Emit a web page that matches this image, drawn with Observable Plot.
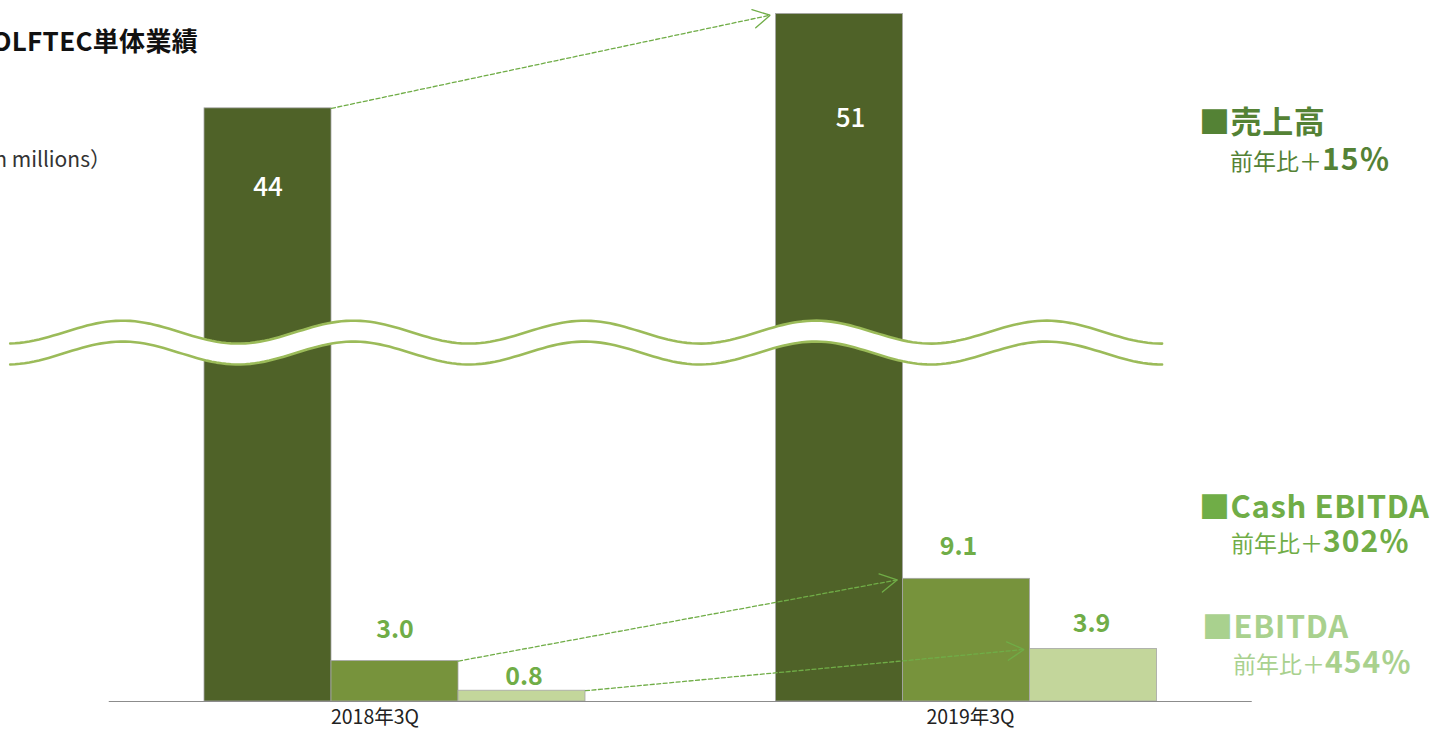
<!DOCTYPE html>
<html>
<head>
<meta charset="utf-8">
<script src="https://cdn.jsdelivr.net/npm/d3@7"></script>
<script src="https://cdn.jsdelivr.net/npm/@observablehq/plot@0.6"></script>
<style>
  html, body { margin: 0; padding: 0; background: #fff; }
  #wrap { position: relative; width: 1441px; height: 729px; overflow: hidden; font-family: "Noto Sans CJK JP", "Noto Sans", sans-serif; }
  #wrap svg { position: absolute; left: 0; top: 0; }
  .ov { position: absolute; white-space: nowrap; line-height: 1; }
  .title { left: 198px; top: 27px; transform: translateX(-100%); font-size: 26px; font-weight: 700; color: #111; letter-spacing: 0.3px; }
  .unit { left: 111px; top: 148px; transform: translateX(-100%); font-size: 21px; color: #333; }
  .lg1 { font-size: 31px; font-weight: 700; letter-spacing: 0.6px; line-height: 0.84; }
  .lg2 { font-size: 23px; font-weight: 400; line-height: 0.9; }
  .lg2 b { font-size: 30px; font-weight: 700; letter-spacing: 1px; line-height: 0.7; }
</style>
</head>
<body>
<div id="wrap"></div>
<script>
// ---- data ----
const categories = ["2018年3Q", "2019年3Q"];
const seriesNames = ["売上高", "Cash EBITDA", "EBITDA"];
const sales = [44, 51];
const cashEbitda = [3.0, 9.1];
const ebitda = [0.8, 3.9];
const valueLabels = [["44", "51"], ["3.0", "9.1"], ["0.8", "3.9"]];
const growth = ["15％", "302％", "454％"];
const seriesColors = ["#4f6228", "#77933c", "#c3d69b"];
const legendColors = ["#548235", "#70ad47", "#a9d18e"];

// ---- layout ----
const groupStep = 4.5;   // bar-widths between group starts
const seriesValues = [sales, cashEbitda, ebitda];
const rows = [];
categories.forEach((cat, g) => {
  seriesValues.forEach((vals, s) => {
    rows.push({cat, series: seriesNames[s], s, g, value: vals[g], label: valueLabels[s][g],
      x1: g * groupStep + s, x2: g * groupStep + s + 1});
  });
});

// label offsets in px (dx, dy) relative to bar top centre
const labelOffsets = {
  "売上高": [[0, 79], [11, 105]],
  "Cash EBITDA": [[0, -31], [-8, -32]],
  "EBITDA": [[2, -14], [-2, -25]]
};

// arrows from 2018 bar top-right to 2019 bar top-left
const arrows = seriesNames.map((name, s) => ({
  x1: s + 1, y1: seriesValues[s][0],
  x2: groupStep + s, y2: seriesValues[s][1]
}));

// decorative wave (axis-break symbol)
const wave = d3.range(0, 241).map(i => {
  const x = -1.53 + i * (9.07 / 240);
  const c = Math.cos(2 * Math.PI * (x + 0.646) / 1.819);
  return {x, up: 27.4 + 0.85 * c, lo: 25.85 + 0.85 * c};
});

const green = "#70ad47";
const marks = [
  Plot.rect(rows, {x1: "x1", x2: "x2", y1: 0, y2: "value", fill: "series", stroke: "#a6a6a6", strokeWidth: 0.8}),
  Plot.ruleY([0], {x1: -0.75, x2: 2 * groupStep - 0.75, stroke: "#8c8c8c", strokeWidth: 1.2}),
  Plot.areaY(wave, {x: "x", y1: "lo", y2: "up", fill: "#fff"}),
  Plot.line(wave, {x: "x", y: "up", stroke: "#9bbb59", strokeWidth: 2.6}),
  Plot.line(wave, {x: "x", y: "lo", stroke: "#9bbb59", strokeWidth: 2.6}),
  // dashed shafts
  Plot.arrow(arrows, {x1: "x1", y1: "y1", x2: "x2", y2: "y2", stroke: green, strokeWidth: 1.3, strokeDasharray: "4,2.5", headLength: 0, insetEnd: 6}),
  // solid heads (shaft removed after render)
  Plot.arrow(arrows, {x1: "x1", y1: "y1", x2: "x2", y2: "y2", stroke: green, strokeWidth: 1.3, headLength: 22, headAngle: 58, insetEnd: 6}),
];
// category labels
const catDx = [-20, 4];
categories.forEach((cat, g) => {
  marks.push(Plot.text([cat], {x: g * groupStep + 1.5, y: 0, text: d => d, dy: 16, dx: catDx[g], fontSize: 19.5, fill: "#222"}));
});
// value labels
rows.forEach(r => {
  const [dx, dy] = labelOffsets[r.series][r.g];
  const isSales = r.s === 0;
  marks.push(Plot.text([r], {x: d => (d.x1 + d.x2) / 2, y: "value", text: "label", dx, dy,
    fontSize: isSales ? 26 : 25, fontWeight: isSales ? 500 : 700, fill: isSales ? "#fff" : green}));
});

const chart = Plot.plot({
  width: 1441, height: 729,
  marginTop: 0, marginBottom: 28, marginLeft: 0, marginRight: 0,
  x: {domain: [-204 / 127, (1441 - 204) / 127], axis: null},
  y: {domain: [0, 52], axis: null},
  color: {domain: seriesNames, range: seriesColors},
  style: {fontFamily: "'Noto Sans CJK JP', 'Noto Sans', sans-serif", background: "transparent"},
  marks
});

// keep only the wings of the solid arrow mark
const arrowGroups = chart.querySelectorAll('g[aria-label="arrow"]');
if (arrowGroups.length > 1) {
  arrowGroups[1].querySelectorAll("path").forEach(p => {
    const d = p.getAttribute("d") || "";
    const idx = d.indexOf("M", 1);
    if (idx > 0) p.setAttribute("d", d.slice(idx));
  });
}

const wrap = document.getElementById("wrap");
wrap.appendChild(chart);

function addDiv(cls, html, style) {
  const d = document.createElement("div");
  d.className = "ov " + cls;
  d.innerHTML = html;
  Object.assign(d.style, style || {});
  wrap.appendChild(d);
}
addDiv("title", "GOLFTEC単体業績");
addDiv("unit", "（US$ in millions）");

const legendPos = [
  {x1: 1199, y1: 106.5, x2: 1230, y2: 147},
  {x1: 1199, y1: 491.5, x2: 1231, y2: 529},
  {x1: 1202, y1: 611.5, x2: 1233, y2: 650}
];
seriesNames.forEach((name, i) => {
  const p = legendPos[i];
  addDiv("lg1", "■" + name, {left: p.x1 + "px", top: p.y1 + "px", color: legendColors[i]});
  addDiv("lg2", "前年比＋<b>" + growth[i] + "</b>", {left: p.x2 + "px", top: p.y2 + "px", color: legendColors[i]});
});
</script>
</body>
</html>
